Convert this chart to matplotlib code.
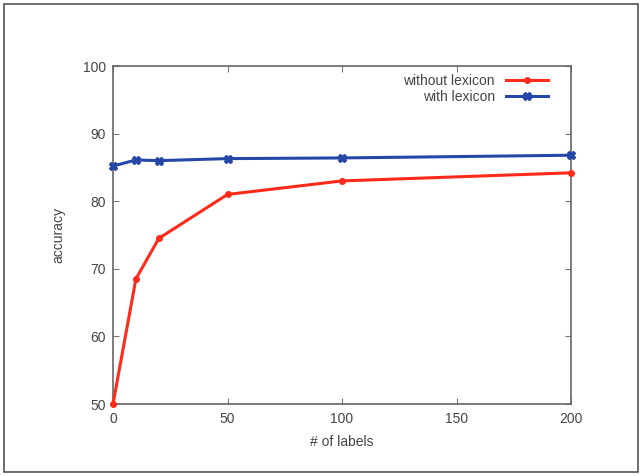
import matplotlib.pyplot as plt
from matplotlib.patches import Rectangle

labels = [0, 10, 20, 50, 100, 200]
without_lexicon = [50.0, 68.5, 74.5, 81.0, 83.0, 84.2]
with_lexicon = [85.2, 86.1, 86.0, 86.3, 86.4, 86.8]

plt.rcParams['font.family'] = ['Liberation Sans', 'DejaVu Sans']
txt = '#444444'

fig = plt.figure(figsize=(6.42, 4.76), dpi=100)
ax = fig.add_axes([113/642, 1-404/476, (571-113)/642, (404-66)/476])

ax.plot(labels, without_lexicon, color='#ff2a1a', lw=2.2, marker='o', ms=4,
        label='without lexicon', clip_on=False, zorder=3)
ax.plot(labels, with_lexicon, color='#2447a8', lw=2.2, marker='X', ms=5.5,
        label='with lexicon', clip_on=False, zorder=3)

ax.set_xlim(0, 200)
ax.set_ylim(50, 100)
ax.set_xticks([0, 50, 100, 150, 200])
ax.set_yticks([50, 60, 70, 80, 90, 100])
ax.tick_params(direction='in', top=True, right=True, labelsize=10,
               length=4, color='#777777', labelcolor=txt, pad=5)
ax.tick_params(axis='x', pad=6)
for s in ax.spines.values():
    s.set_color('#666666')
    s.set_linewidth(1.2)

ax.set_xlabel('# of labels', fontsize=10, color=txt, labelpad=6)
ax.set_ylabel('accuracy', fontsize=10, color=txt, labelpad=13)

ax.legend(loc='upper right', frameon=False, markerfirst=False, fontsize=10,
          handlelength=3, bbox_to_anchor=(0.97, 1.005), borderaxespad=0.3,
          labelspacing=0.15, handletextpad=0.8, labelcolor=txt)

fig.patches.append(Rectangle((4/642, 4/476), 634/642, 468/476, transform=fig.transFigure,
                             fill=False, edgecolor='#555555', lw=1.2))

fig.savefig('out.png', dpi=100)
